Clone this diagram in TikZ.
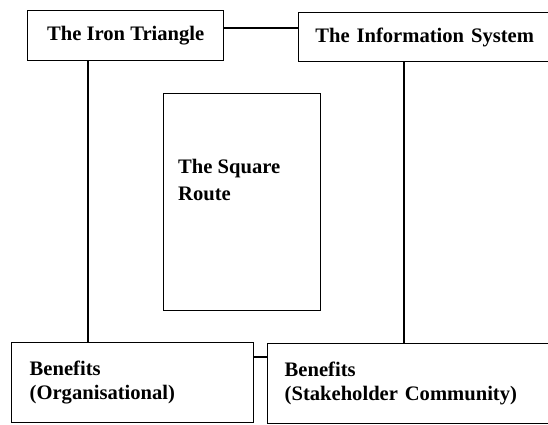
\documentclass[tikz,border=0pt]{standalone}
\usepackage{fontspec}
\setmainfont{Liberation Serif}
\begin{document}
\begin{tikzpicture}[x=1pt,y=-1pt,
  box/.style={draw=black,line width=1.4pt,fill=white,rectangle,inner sep=0pt},
  lbl/.style={font=\fontsize{20.6}{24}\selectfont\bfseries},
  conn/.style={draw=black,line width=1.2pt}]
\useasboundingbox[fill=white] (0,0) rectangle (548,424);
% top boxes
\node[box,lbl,anchor=north west,minimum width=196pt,minimum height=50pt] (iron) at (27,10) {The Iron Triangle};
\node[box,lbl,anchor=north west,minimum width=252pt,minimum height=49pt,text width=252pt,align=center] (info) at (298,12) {The Information System};
% square route
\node[box,anchor=north west,minimum width=157pt,minimum height=217pt] (square) at (163,93) {};
\node[lbl,anchor=north west,inner sep=0pt,align=left,font=\fontsize{20.6}{27}\selectfont\bfseries] (sqtext) at (178,159) {The Square\\Route};
% bottom boxes
\node[box,lbl,anchor=north west,minimum height=80pt,text width=206pt,inner xsep=18pt,align=left,font=\fontsize{20.6}{24}\selectfont\bfseries] (org) at (11,342) {Benefits\\(Organisational)};
\node[box,lbl,anchor=north west,minimum height=80pt,text width=270pt,inner xsep=17pt,align=left,font=\fontsize{20.6}{24}\selectfont\bfseries] (stake) at (267,343) {Benefits\\(Stakeholder Community)};
% connectors
\coordinate (c1) at (88,60);
\coordinate (c2) at (404,61);
\draw[conn] (iron.east |- 0,28) -- (info.west |- 0,28);
\draw[conn] (iron.south -| c1) -- (org.north -| c1);
\draw[conn] (info.south -| c2) -- (stake.north -| c2);
\draw[conn] (org.east |- 0,357) -- (stake.west |- 0,357);
\end{tikzpicture}
\end{document}
